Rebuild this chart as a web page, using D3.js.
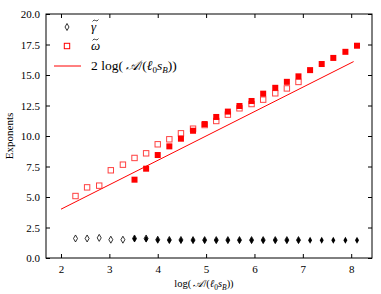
<!DOCTYPE html>
<html>
<head>
<meta charset="utf-8">
<script src="https://cdn.jsdelivr.net/npm/d3@7"></script>
<style>
body { margin: 0; background: #fff; }
text { font-family: "Liberation Serif", "DejaVu Serif", serif; }
</style>
</head>
<body>
<svg width="381" height="294"></svg>
<script>
// x positions of the samples (log A / (l0 sB))
var xs = [2.30, 2.54, 2.79, 3.03, 3.28, 3.52, 3.76, 4.00, 4.24, 4.48,
          4.73, 4.97, 5.21, 5.45, 5.69, 5.94, 6.18, 6.43, 6.67, 6.91,
          7.15, 7.39, 7.63, 7.88, 8.12];

// small system: indices 0..19, large system: indices 5..24
var gammaSmall = [1.60, 1.60, 1.65, 1.50, 1.50, 1.60, 1.60, 1.50, 1.48, 1.48,
                  1.47, 1.47, 1.47, 1.47, 1.47, 1.47, 1.47, 1.47, 1.47, 1.47];
var gammaLarge = [1.58, 1.55, 1.47, 1.45, 1.45, 1.45, 1.45, 1.45, 1.45, 1.45,
                  1.45, 1.45, 1.45, 1.45, 1.45, 1.45, 1.45, 1.45, 1.45, 1.45];
var omegaSmall = [5.08, 5.79, 5.93, 7.19, 7.65, 8.20, 8.58, 9.32, 9.73, 10.22,
                  10.60, 10.90, 11.23, 11.75, 12.27, 12.62, 12.98, 13.50, 13.90, 14.43];
var omegaLarge = [6.42, 7.32, 8.44, 9.15, 9.78, 10.43, 10.98, 11.56, 12.00, 12.46,
                  12.87, 13.47, 13.95, 14.44, 14.89, 15.40, 15.90, 16.40, 16.90, 17.40];

var lineX = [2.0, 8.05];

var xTicks = [2, 3, 4, 5, 6, 7, 8];
var yTicks = [0, 2.5, 5, 7.5, 10, 12.5, 15, 17.5, 20];

var svg = d3.select("svg");
var m = {left: 46, right: 9, top: 14, bottom: 36};
var W = 381 - m.left - m.right, H = 294 - m.top - m.bottom;

var x = d3.scaleLinear().domain([1.69, 8.43]).range([m.left, m.left + W]);
var y = d3.scaleLinear().domain([0, 20]).range([m.top + H, m.top]);

var red = "#ff0000";

// axes, ticks pointing inward
svg.append("g").attr("transform", "translate(0," + (m.top + H) + ")")
    .call(d3.axisBottom(x).tickValues(xTicks).tickSizeInner(-4).tickSizeOuter(0).tickPadding(7).tickFormat(d3.format("d")));
svg.append("g").attr("transform", "translate(0," + m.top + ")")
    .call(d3.axisTop(x).tickValues(xTicks).tickSizeInner(-4).tickSizeOuter(0).tickFormat(""));
svg.append("g").attr("transform", "translate(" + m.left + ",0)")
    .call(d3.axisLeft(y).tickValues(yTicks).tickSizeInner(-4).tickSizeOuter(0).tickPadding(6).tickFormat(d3.format(".1f")));
svg.append("g").attr("transform", "translate(" + (m.left + W) + ",0)")
    .call(d3.axisRight(y).tickValues(yTicks).tickSizeInner(-4).tickSizeOuter(0).tickFormat(""));
svg.selectAll(".domain").remove();
svg.selectAll(".tick text").attr("font-size", 11).attr("font-family", "Liberation Serif").attr("fill", "#000");

svg.append("rect").attr("x", m.left).attr("y", m.top).attr("width", W).attr("height", H)
    .attr("fill", "none").attr("stroke", "#000").attr("stroke-width", 1);

// reference line 2 log(A/(l0 sB))
svg.append("line")
    .attr("x1", x(lineX[0])).attr("y1", y(2 * lineX[0]))
    .attr("x2", x(lineX[1])).attr("y2", y(2 * lineX[1]))
    .attr("stroke", red).attr("stroke-width", 1);

var diamond = "M0,-3.5L2,0L0,3.5L-2,0Z";

// omega, small system (open squares)
svg.append("g").selectAll("rect")
    .data(omegaSmall).enter().append("rect")
    .attr("x", function(d, i) { return x(xs[i]) - 2.7; })
    .attr("y", function(d) { return y(d) - 2.7; })
    .attr("width", 5.4).attr("height", 5.4)
    .attr("fill", "#fff").attr("stroke", red).attr("stroke-opacity", 0.75).attr("stroke-width", 1);

// omega, large system (filled squares)
svg.append("g").selectAll("rect")
    .data(omegaLarge).enter().append("rect")
    .attr("x", function(d, i) { return x(xs[i + 5]) - 3; })
    .attr("y", function(d) { return y(d) - 3; })
    .attr("width", 6).attr("height", 6)
    .attr("fill", red);

// gamma, small system (open diamonds)
svg.append("g").selectAll("path")
    .data(gammaSmall).enter().append("path")
    .attr("d", diamond)
    .attr("transform", function(d, i) { return "translate(" + x(xs[i]) + "," + y(d) + ")"; })
    .attr("fill", "#fff").attr("stroke", "#000").attr("stroke-width", 0.8);

// gamma, large system (filled diamonds)
svg.append("g").selectAll("path")
    .data(gammaLarge).enter().append("path")
    .attr("d", diamond)
    .attr("transform", function(d, i) { return "translate(" + x(xs[i + 5]) + "," + y(d) + ")"; })
    .attr("fill", "#000");

// legend
var lg = svg.append("g");
function tilded(ch, tx, ty) {
    lg.append("text").attr("x", tx).attr("y", ty).attr("font-size", 13).attr("font-style", "italic").text(ch);
    // tilde accent drawn as a little wave
    var cx = tx + 4.5, cy = ty - 10.5;
    lg.append("path")
        .attr("d", "M" + (cx - 3) + "," + (cy + 1) + "Q" + (cx - 1.5) + "," + (cy - 1.5) + " " + cx + "," + cy +
                   "T" + (cx + 3) + "," + (cy - 1))
        .attr("fill", "none").attr("stroke", "#000").attr("stroke-width", 0.7);
}
lg.append("path").attr("d", diamond).attr("transform", "translate(67,27)")
    .attr("fill", "#fff").attr("stroke", "#000").attr("stroke-width", 0.8);
tilded("γ", 91, 31);
lg.append("rect").attr("x", 64.3).attr("y", 43.3).attr("width", 5.4).attr("height", 5.4)
    .attr("fill", "#fff").attr("stroke", red).attr("stroke-width", 1);
tilded("ω", 91, 50);
lg.append("line").attr("x1", 54).attr("x2", 81).attr("y1", 66).attr("y2", 66).attr("stroke", red);
var t = lg.append("text").attr("x", 91).attr("y", 70).attr("font-size", 13.5);
t.append("tspan").text("2 log(\u2009");
t.append("tspan").attr("font-style", "italic").text("𝒜");
t.append("tspan").text("/(");
t.append("tspan").attr("font-style", "italic").text("ℓ");
t.append("tspan").attr("font-size", 9).attr("dy", 2.5).text("0");
t.append("tspan").attr("font-style", "italic").attr("dy", -2.5).text("s");
t.append("tspan").attr("font-style", "italic").attr("font-size", 9).attr("dy", 2.5).text("B");
t.append("tspan").attr("dy", -2.5).text("))");

// axis labels
var xl = svg.append("text").attr("x", 204).attr("y", 287).attr("text-anchor", "middle").attr("font-size", 10.5);
xl.append("tspan").text("log(\u2009");
xl.append("tspan").attr("font-style", "italic").text("𝒜");
xl.append("tspan").text("/(");
xl.append("tspan").attr("font-style", "italic").text("ℓ");
xl.append("tspan").attr("font-size", 7.5).attr("dy", 2.5).text("0");
xl.append("tspan").attr("font-style", "italic").attr("dy", -2.5).text("s");
xl.append("tspan").attr("font-style", "italic").attr("font-size", 7.5).attr("dy", 2.5).text("B");
xl.append("tspan").attr("dy", -2.5).text("))");

svg.append("text").attr("transform", "translate(13," + (m.top + H / 2) + ") rotate(-90)")
    .attr("text-anchor", "middle").attr("font-size", 11).text("Exponents");
</script>
</body>
</html>
